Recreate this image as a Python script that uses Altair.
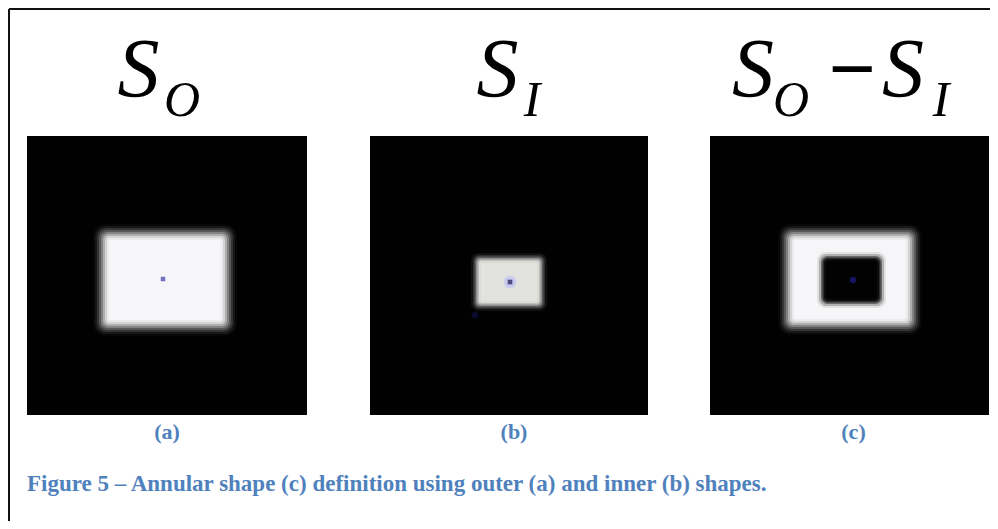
import altair as alt
import pandas as pd

# ---------------- data (figure pixel coordinates) ----------------
# three image panels
panel_left = [27, 370, 710]
panel_right = [307, 648, 989]
panel_top = [136, 136, 136]
panel_bottom = [415, 415, 415]

# outer shape S_O (panels a and c)
outer_left = [96, 781]
outer_right = [234, 919]
outer_top = [227, 227]
outer_bottom = [333, 332]

# inner shape S_I (panel b)
inner_left = [473]
inner_right = [545]
inner_top = [255]
inner_bottom = [309]

# hole S_I removed from S_O (panel c)
hole_left = [820]
hole_right = [883]
hole_top = [255]
hole_bottom = [305]

# centroid markers
dot_x = [163, 510, 853]
dot_y = [279, 282, 280]
stray_x = [475]
stray_y = [315]

# headings
main_glyph = ["S", "S", "S", "S"]
main_x = [138.5, 497.5, 753, 903]
main_y = [97, 97, 97, 97]
sub_glyph = ["O", "I", "O", "I"]
sub_x = [182, 532, 791, 941]
sub_y = [116, 116, 116, 116]
op_glyph = ["\u2212"]
op_x = [852.5]
op_y = [97]

# sub-figure labels and caption
label_text = ["(a)", "(b)", "(c)"]
label_x = [167, 514, 853.5]
label_y = [439, 439, 439]
caption_text = ["Figure 5 \u2013 Annular shape (c) definition using outer (a) and inner (b) shapes."]
caption_x = [27]
caption_y = [491]

# frame lines
frame_x = [9, 9]
frame_x2 = [990, 9]
frame_y = [9, 9]
frame_y2 = [9, 521]

# ---------------- helpers ----------------
XS = alt.Scale(domain=[8, 990], nice=False, zero=False)
YS = alt.Scale(domain=[8, 521], nice=False, zero=False, reverse=True)


def X(f):
    return alt.X(f"{f}:Q", scale=XS, axis=None)


def Y(f):
    return alt.Y(f"{f}:Q", scale=YS, axis=None)


def box_df(l, r, t, b):
    return pd.DataFrame({"left": l, "right": r, "top": t, "bottom": b})


def blurred(df, steps, radius):
    out = []
    for inset, color in steps:
        out.append(
            alt.Chart(df)
            .transform_calculate(
                bx="datum.left + (%s)" % inset,
                bx2="datum.right - (%s)" % inset,
                by="datum.top + (%s)" % inset,
                by2="datum.bottom - (%s)" % inset,
            )
            .mark_rect(color=color, cornerRadius=max(radius - inset * 0.6, 1), strokeWidth=0)
            .encode(x=X("bx"), x2="bx2:Q", y=Y("by"), y2="by2:Q")
        )
    return out


layers = []

# black panels
panels = box_df(panel_left, panel_right, panel_top, panel_bottom)
layers.append(
    alt.Chart(panels).mark_rect(color="#010101", strokeWidth=0)
    .encode(x=X("left"), x2="right:Q", y=Y("top"), y2="bottom:Q")
)

# outer shapes with soft edges
outer_steps = [(-3, "#070707"), (-1, "#181818"), (1, "#343434"), (3, "#585858"),
               (5, "#828282"), (7, "#aeaeae"), (9, "#d4d4d4"), (11, "#ebebed"),
               (13, "#f6f6f8")]
layers += blurred(box_df(outer_left, outer_right, outer_top, outer_bottom), outer_steps, 10)

# inner shape
inner_steps = [(-2, "#111111"), (0, "#2e2e2e"), (1.5, "#5a5a5a"), (3, "#8c8c8c"),
               (4.5, "#bdbdba"), (6, "#dadad6"), (8, "#e2e2de")]
layers += blurred(box_df(inner_left, inner_right, inner_top, inner_bottom), inner_steps, 6)

# hole
hole_steps = [(-3, "#e2e2e2"), (-1, "#b0b0b0"), (1, "#6a6a6a"), (2.5, "#2e2e2e"),
              (4, "#0c0c0c"), (6, "#020202")]
layers += blurred(box_df(hole_left, hole_right, hole_top, hole_bottom), hole_steps, 7)

# centroid markers
dots = pd.DataFrame({"x": dot_x, "y": dot_y, "k": ["a", "b", "c"]})
layers.append(
    alt.Chart(dots).transform_filter("datum.k == 'b'")
    .mark_circle(color="#c9c9f2", size=160, opacity=0.9)
    .encode(x=X("x"), y=Y("y"))
)
layers.append(
    alt.Chart(dots).transform_filter("datum.k == 'a'")
    .mark_square(color="#3b37a6", size=20)
    .encode(x=X("x"), y=Y("y"))
)
layers.append(
    alt.Chart(dots).transform_filter("datum.k == 'b'")
    .mark_square(color="#161650", size=22)
    .encode(x=X("x"), y=Y("y"))
)
layers.append(
    alt.Chart(dots).transform_filter("datum.k == 'c'")
    .mark_circle(color="#1c1c78", size=40, opacity=0.8)
    .encode(x=X("x"), y=Y("y"))
)
stray = pd.DataFrame({"x": stray_x, "y": stray_y})
layers.append(
    alt.Chart(stray).mark_circle(color="#0c0c3a", size=50, opacity=0.8)
    .encode(x=X("x"), y=Y("y"))
)

# headings
mains = pd.DataFrame({"t": main_glyph, "x": main_x, "y": main_y})
layers.append(
    alt.Chart(mains).mark_text(font="Liberation Serif", fontStyle="italic", fontSize=84,
                               align="center", baseline="alphabetic", color="#000000")
    .encode(x=X("x"), y=Y("y"), text="t:N")
)
subs = pd.DataFrame({"t": sub_glyph, "x": sub_x, "y": sub_y})
layers.append(
    alt.Chart(subs).mark_text(font="Liberation Serif", fontStyle="italic", fontSize=50,
                              align="center", baseline="alphabetic", color="#000000")
    .encode(x=X("x"), y=Y("y"), text="t:N")
)
ops = pd.DataFrame({"t": op_glyph, "x": op_x, "y": op_y})
layers.append(
    alt.Chart(ops).mark_text(font="Liberation Serif", fontSize=84, fontWeight="bold",
                             align="center", baseline="alphabetic", color="#000000")
    .encode(x=X("x"), y=Y("y"), text="t:N")
)

# labels and caption
labels = pd.DataFrame({"t": label_text, "x": label_x, "y": label_y})
layers.append(
    alt.Chart(labels).mark_text(font="Liberation Serif", fontWeight="bold", fontSize=22,
                                align="center", baseline="alphabetic", color="#4F81BD")
    .encode(x=X("x"), y=Y("y"), text="t:N")
)
caption = pd.DataFrame({"t": caption_text, "x": caption_x, "y": caption_y})
layers.append(
    alt.Chart(caption).mark_text(font="Liberation Serif", fontWeight="bold", fontSize=23,
                                 align="left", baseline="alphabetic", color="#4F81BD")
    .encode(x=X("x"), y=Y("y"), text="t:N")
)

# frame
frame = pd.DataFrame({"x": frame_x, "x2": frame_x2, "y": frame_y, "y2": frame_y2})
layers.append(
    alt.Chart(frame).mark_rule(color="#111111", strokeWidth=2)
    .encode(x=X("x"), x2="x2:Q", y=Y("y"), y2="y2:Q")
)

chart = (
    alt.layer(*layers)
    .properties(width=982, height=513, padding=0,
                autosize=alt.AutoSizeParams(type="none"), background="#ffffff")
    .configure_view(strokeWidth=0)
)

chart.save("out.html", embed_options={"renderer": "svg", "actions": False})
